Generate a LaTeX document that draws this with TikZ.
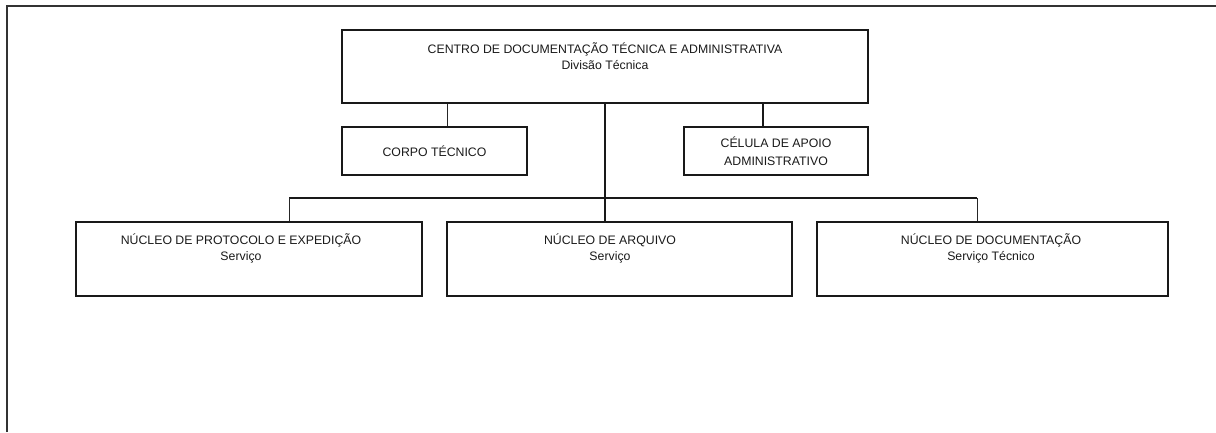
\documentclass[tikz,border=0pt]{standalone}
\usepackage{fontspec}
\setmainfont{Liberation Sans}

\begin{document}
\begin{tikzpicture}[x=1pt,y=-1pt,
		caixa/.style={draw=black!90,line width=2pt,inner sep=0pt},
		rotulo/.style={align=center,text=black!90,font=\fontsize{12.3}{16}\selectfont},
		fio/.style={black!85,line width=1pt},
		tronco/.style={black!90,line width=2.4pt}]
		\useasboundingbox (0,0) rectangle (1216,432);
		\draw[black!80,line width=2pt] (7,432) -- (7,6) -- (1216,6);
		
		% topo
		\node[caixa,minimum width=526,minimum height=73] (centro) at (605,66.5) {};
		\node[rotulo] (centro-txt) at (605,56) {CENTRO DE DOCUMENTAÇÃO TÉCNICA E ADMINISTRATIVA\\Divisão Técnica};
		
		% assessoria
		\node[caixa,rotulo,minimum width=185,minimum height=48] (corpo) at (434.5,151) {CORPO TÉCNICO};
		\node[caixa,rotulo,minimum width=184,minimum height=48,font=\fontsize{12.3}{18}\selectfont] (celula) at (776,151) {CÉLULA DE APOIO\\ADMINISTRATIVO};
		
		% nucleos
		\node[caixa,minimum width=346,minimum height=74] (protocolo) at (249,259) {};
		\node[rotulo] (protocolo-txt) at (241,248) {NÚCLEO DE PROTOCOLO E EXPEDIÇÃO\\Serviço};
		\node[caixa,minimum width=345,minimum height=74] (arquivo) at (619.5,259) {};
		\node[rotulo] (arquivo-txt) at (610,248) {NÚCLEO DE ARQUIVO\\Serviço};
		\node[caixa,minimum width=351,minimum height=74] (documentacao) at (992.5,259) {};
		\node[rotulo] (documentacao-txt) at (991,248) {NÚCLEO DE DOCUMENTAÇÃO\\Serviço Técnico};
		
		% ligacoes
		\coordinate (barra) at (605,198);
		\draw[fio] ([xshift=12.5pt]corpo.north) -- ([xshift=12.5pt]corpo.north |- centro.south);
		\draw[tronco] ([xshift=-13pt]celula.north) -- ([xshift=-13pt]celula.north |- centro.south);
		\draw[tronco] (centro.south) -- (centro.south |- arquivo.north);
		\draw[tronco] ([xshift=40pt]protocolo.north |- barra) -- ([xshift=-15.5pt]documentacao.north |- barra);
		\draw[fio] ([xshift=40pt]protocolo.north) -- ([xshift=40pt]protocolo.north |- barra);
		\draw[fio] ([xshift=-15.5pt]documentacao.north) -- ([xshift=-15.5pt]documentacao.north |- barra);
\end{tikzpicture}
\end{document}
